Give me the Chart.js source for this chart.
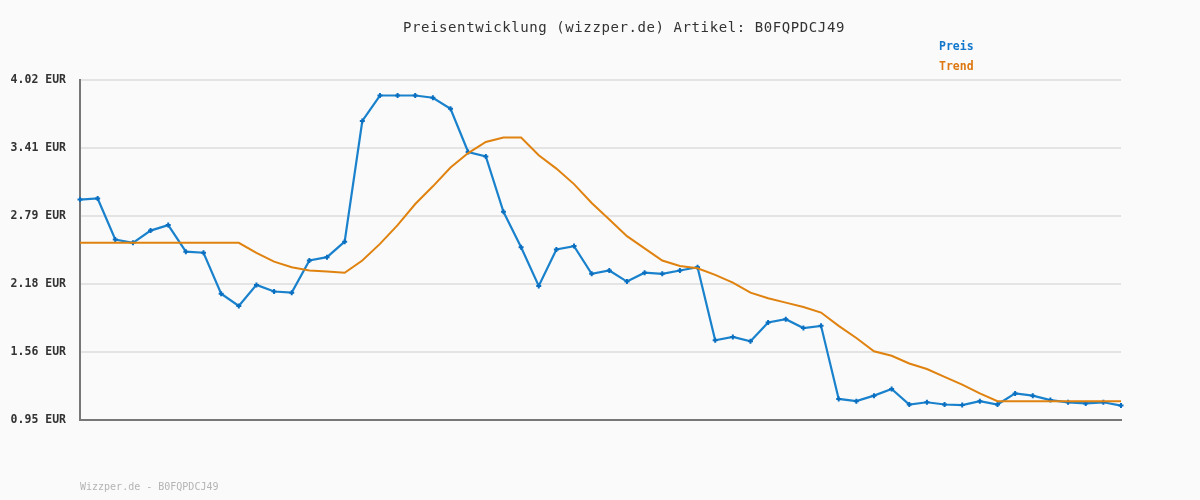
<!DOCTYPE html>
<html>
<head>
<meta charset="utf-8">
<script src="https://cdn.jsdelivr.net/npm/chart.js@4.4.1/dist/chart.umd.min.js"></script>
<style>
  html, body { margin: 0; padding: 0; background: #fafafa; }
  #wrap { width: 1200px; height: 500px; }
</style>
</head>
<body>
<div id="wrap"><canvas id="myChart" width="1200" height="500"></canvas></div>
<script>
// values
const preis = [2.94, 2.95, 2.58, 2.55, 2.66, 2.71, 2.47, 2.46, 2.09, 1.98,
               2.17, 2.11, 2.10, 2.39, 2.42, 2.56, 3.65, 3.88, 3.88, 3.88,
               3.86, 3.76, 3.37, 3.33, 2.83, 2.51, 2.16, 2.49, 2.52, 2.27,
               2.30, 2.20, 2.28, 2.27, 2.30, 2.33, 1.67, 1.70, 1.66, 1.83,
               1.86, 1.78, 1.80, 1.14, 1.12, 1.17, 1.23, 1.09, 1.11, 1.09,
               1.085, 1.12, 1.09, 1.19, 1.17, 1.13, 1.11, 1.10, 1.11, 1.08]
const trend = [2.55, 2.55, 2.55, 2.55, 2.55, 2.55, 2.55, 2.55, 2.55, 2.55,
               2.46, 2.38, 2.33, 2.30, 2.29, 2.28, 2.39, 2.54, 2.71, 2.90,
               3.06, 3.23, 3.36, 3.46, 3.50, 3.50, 3.34, 3.22, 3.08, 2.91,
               2.76, 2.61, 2.50, 2.39, 2.34, 2.32, 2.26, 2.19, 2.10, 2.05,
               2.01, 1.97, 1.92, 1.80, 1.69, 1.57, 1.53, 1.46, 1.41, 1.34,
               1.27, 1.19, 1.12, 1.12, 1.12, 1.12, 1.12, 1.12, 1.12, 1.12]
const labels = preis.map((v, i) => String(i + 1))
const yTicks = [0.95, 1.564, 2.178, 2.792, 3.406, 4.02]
const seriesNames = ['Preis', 'Trend']
const seriesColors = ['#1a82cc', '#e0820f']
const titleText = 'Preisentwicklung (wizzper.de) Artikel: B0FQPDCJ49'
const footerText = 'Wizzper.de - B0FQPDCJ49'

// draws title, legend text and footer
const textPlugin = {
    id: 'texts',
    afterDraw(chart) {
        const c = chart.ctx
        c.save()
        c.textBaseline = 'middle'
        c.fillStyle = '#333'
        c.font = '14px "DejaVu Sans Mono"'
        c.letterSpacing = '0px'
        // stretch the title to the width it has in the picture
        const w = c.measureText(titleText).width
        const sp = Math.max(0, (442 - w) / titleText.length)
        c.letterSpacing = sp.toFixed(2) + 'px'
        c.textAlign = 'left'
        c.fillText(titleText, 403, 28)
        c.letterSpacing = '0px'
        c.font = 'bold 11.5px "DejaVu Sans Mono"'
        c.fillStyle = '#1177cc'
        c.fillText(seriesNames[0], 939, 47)
        c.fillStyle = '#dd7711'
        c.fillText(seriesNames[1], 939, 67)
        c.font = '10px "DejaVu Sans Mono"'
        c.fillStyle = '#b4b4b4'
        c.fillText(footerText, 80, 487)
        c.restore()
    }
}

const ctx = document.getElementById('myChart').getContext('2d')
const myChart = new Chart(ctx, {
    type: 'line',
    data: {
        labels: labels,
        datasets: [{
            label: seriesNames[1],
            data: trend,
            borderColor: seriesColors[1],
            borderWidth: 2,
            pointRadius: 0,
            tension: 0
        }, {
            label: seriesNames[0],
            data: preis,
            borderColor: seriesColors[0],
            borderWidth: 2.2,
            pointStyle: 'cross',
            pointRadius: 2.5,
            pointBorderWidth: 2,
            pointBorderColor: '#0a6fc0',
            tension: 0
        }]
    },
    options: {
        responsive: false,
        animation: false,
        layout: { padding: { left: 0, right: 79, top: 80, bottom: 80 } },
        plugins: {
            legend: { display: false },
            tooltip: { enabled: false }
        },
        scales: {
            x: {
                offset: false,
                grid: { display: false },
                ticks: { display: false },
                border: { display: true, color: '#777', width: 2 },
                afterFit: (s) => { s.height = 0 }
            },
            y: {
                min: 0.95,
                max: 4.02,
                afterBuildTicks: (s) => { s.ticks = yTicks.map(v => ({ value: v })) },
                afterFit: (s) => { s.width = 80 },
                grid: { color: '#e4e4e4', lineWidth: 2, drawTicks: false },
                border: { display: true, color: '#777', width: 2 },
                ticks: {
                    padding: 14,
                    color: '#333',
                    font: { family: 'DejaVu Sans Mono', size: 11.5, weight: 'bold' },
                    callback: (v) => Number(v).toFixed(2) + ' EUR'
                }
            }
        }
    },
    plugins: [textPlugin]
})
</script>
</body>
</html>
